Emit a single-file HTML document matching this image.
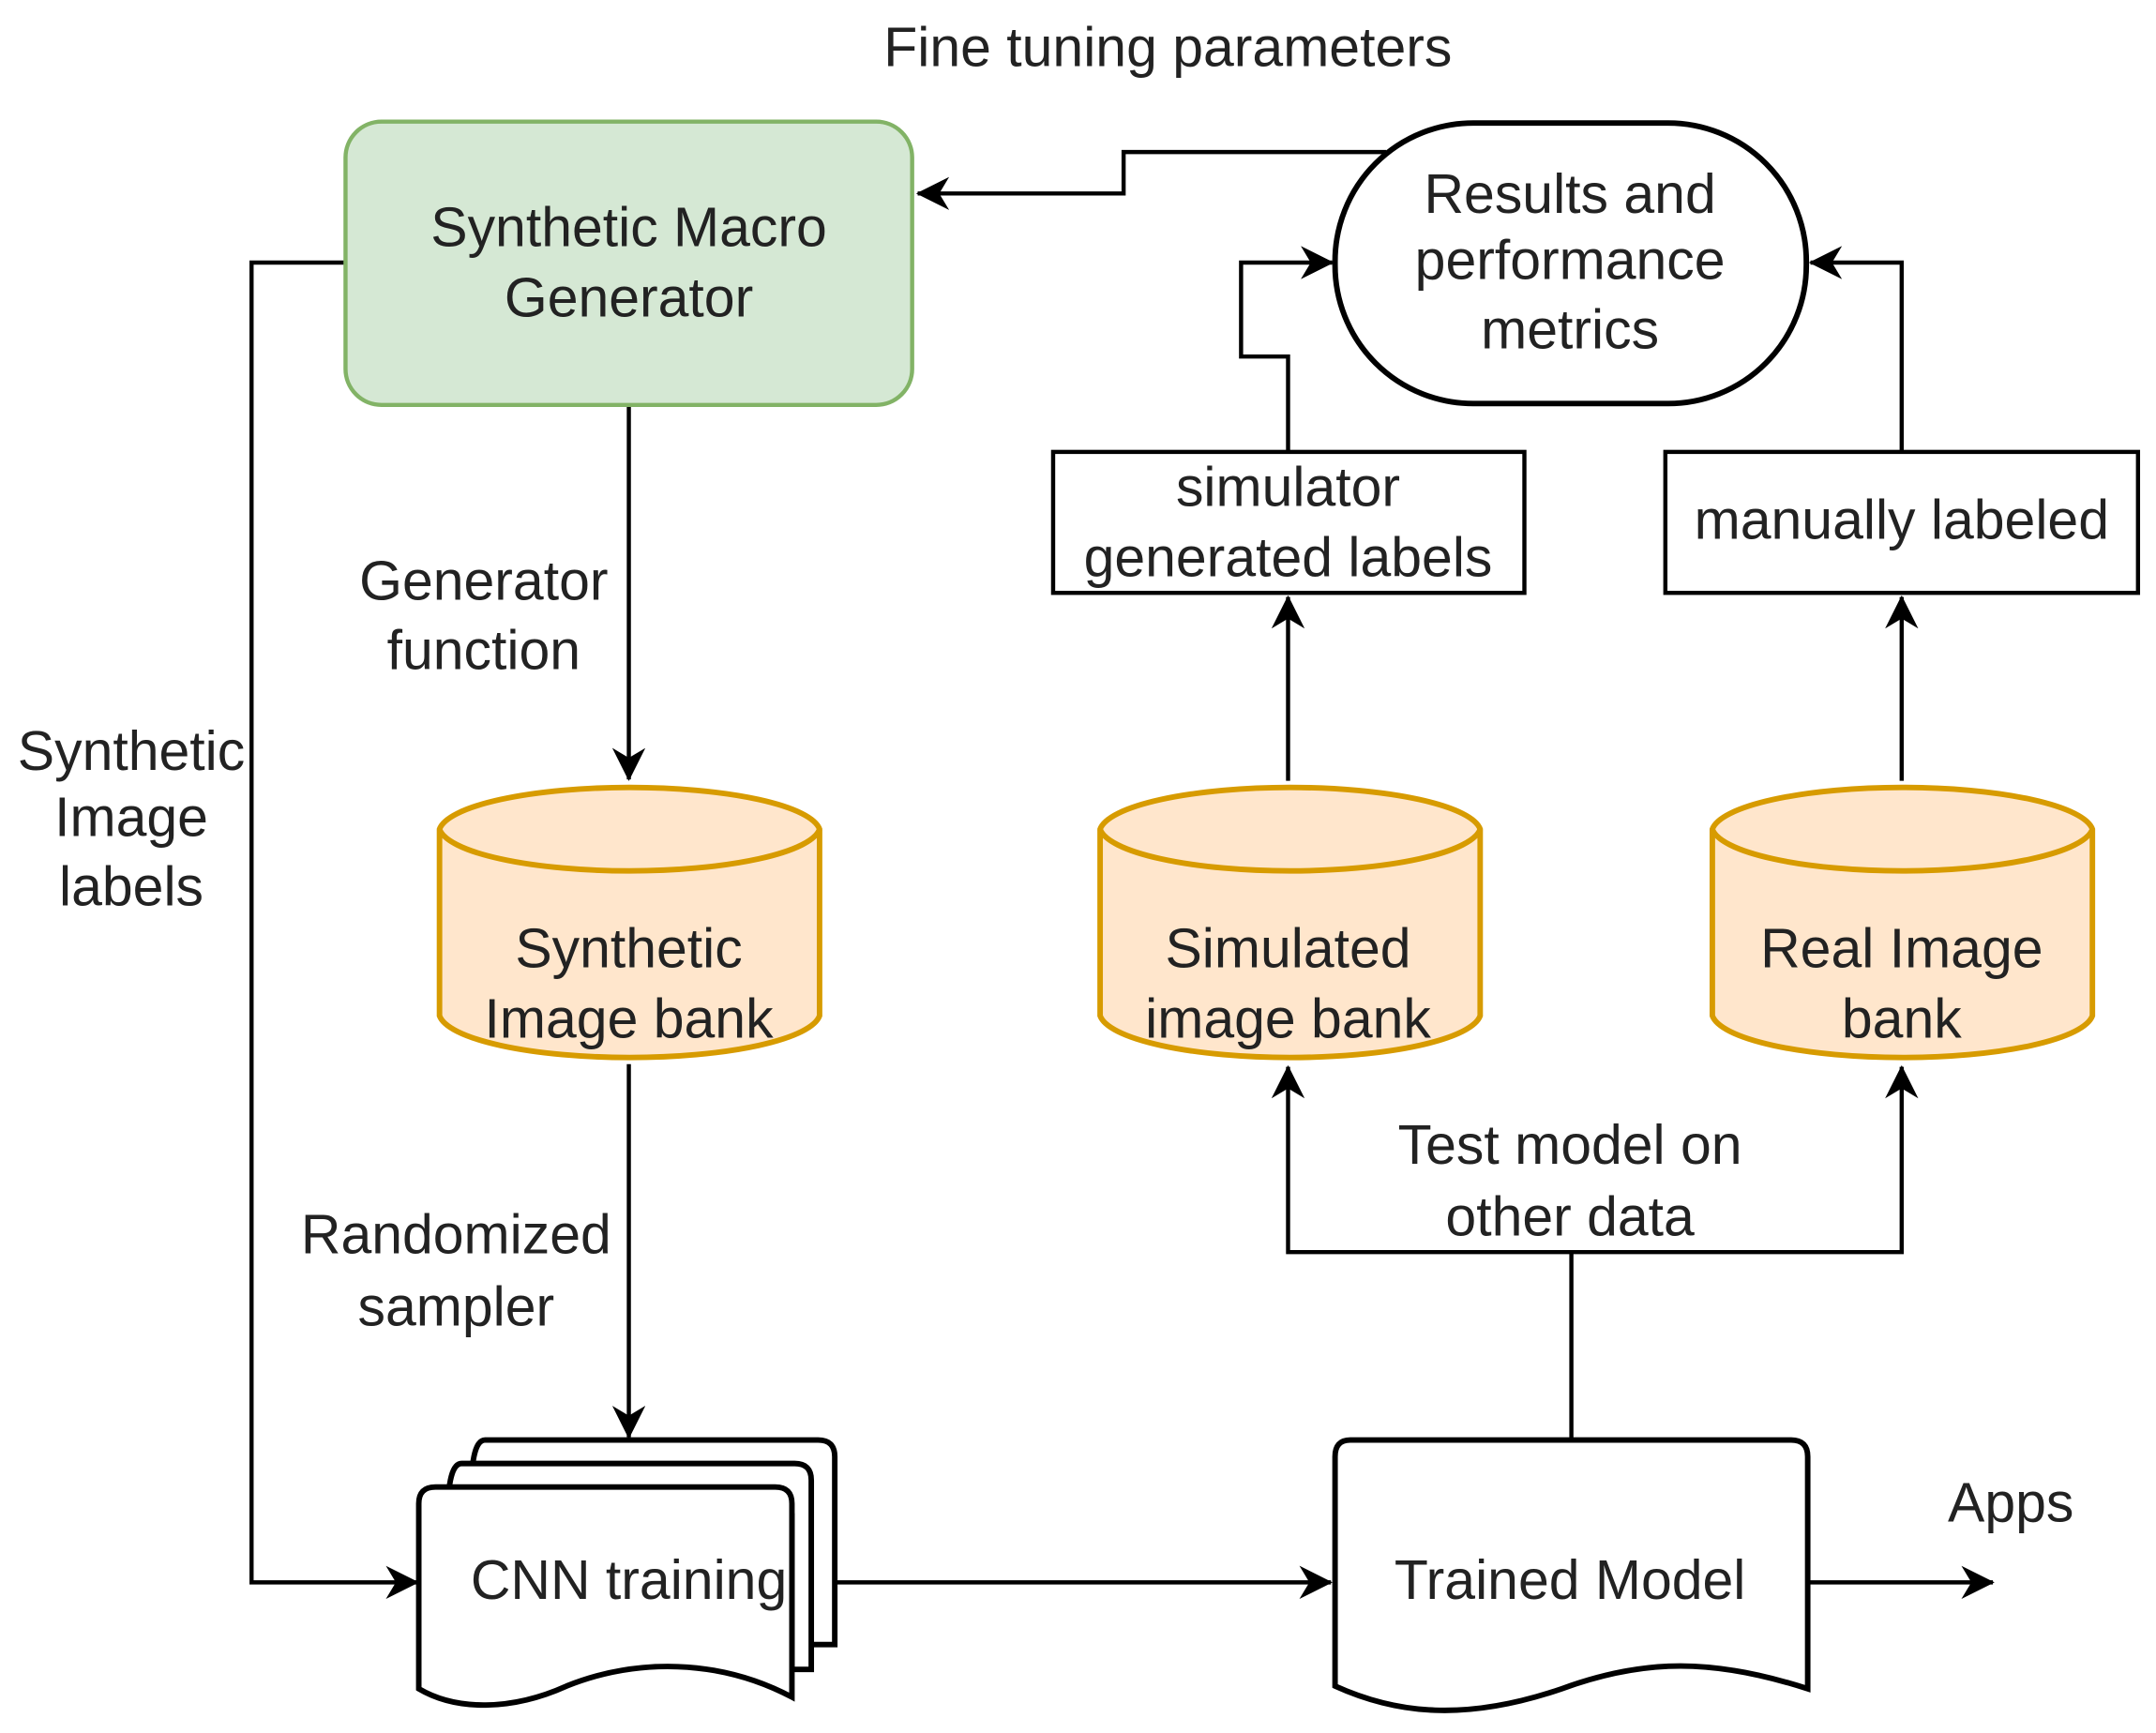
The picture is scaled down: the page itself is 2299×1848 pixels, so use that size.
<!DOCTYPE html>
<html><head><style>html,body{margin:0;padding:0;background:#fff}svg{display:block}</style></head>
<body>
<svg width="2299" height="1848" viewBox="0 0 1560 1254" xmlns="http://www.w3.org/2000/svg">
<defs>
<marker id="ar" viewBox="0 0 20 20" refX="19" refY="10" markerWidth="24" markerHeight="24" orient="auto" markerUnits="userSpaceOnUse">
<path d="M0,0 L20,10 L0,20 L6,10 Z" fill="#000"/>
</marker>
</defs>
<g font-family="Liberation Sans, sans-serif" font-size="40" fill="#222" text-anchor="middle">
<text x="845" y="48">Fine tuning parameters</text>
</g>
<g fill="none" stroke="#000" stroke-width="3">
<polyline points="1003,110 813,110 813,140 664,140" marker-end="url(#ar)"/>
<polyline points="932,327 932,258 898,258 898,190 964,190" marker-end="url(#ar)"/>
<polyline points="1376,327 1376,190 1310,190" marker-end="url(#ar)"/>
<line x1="455" y1="293" x2="455" y2="564" marker-end="url(#ar)"/>
<line x1="455" y1="770" x2="455" y2="1040" marker-end="url(#ar)"/>
<polyline points="250,190 182,190 182,1145 302,1145" marker-end="url(#ar)"/>
<line x1="605" y1="1145" x2="963" y2="1145" marker-end="url(#ar)"/>
<line x1="1308" y1="1145" x2="1442" y2="1145" marker-end="url(#ar)"/>
<polyline points="1137,1042 1137,906 932,906 932,772" marker-end="url(#ar)"/>
<polyline points="1137,906 1376,906 1376,772" marker-end="url(#ar)"/>
<line x1="932" y1="565" x2="932" y2="432" marker-end="url(#ar)"/>
<line x1="1376" y1="565" x2="1376" y2="432" marker-end="url(#ar)"/>
</g>
<rect x="250" y="88" width="410" height="205" rx="26" fill="#d5e8d4" stroke="#82b366" stroke-width="3"/>
<rect x="966" y="89" width="341" height="203" rx="100" fill="#fff" stroke="#000" stroke-width="4"/>
<rect x="762" y="327" width="341" height="102" fill="#fff" stroke="#000" stroke-width="3"/>
<rect x="1205" y="327" width="342" height="102" fill="#fff" stroke="#000" stroke-width="3"/>
<g fill="#ffe6cc" stroke="#d79b00" stroke-width="4">
<path d="M318,600 a138,33 0 0 1 275,0 v135 a138,33 0 0 1 -275,0 Z"/><path d="M318,600 a138,33 0 0 0 275,0" fill="none"/>
<path d="M796,600 a138,33 0 0 1 275,0 v135 a138,33 0 0 1 -275,0 Z"/><path d="M796,600 a138,33 0 0 0 275,0" fill="none"/>
<path d="M1239,600 a138,33 0 0 1 275,0 v135 a138,33 0 0 1 -275,0 Z"/><path d="M1239,600 a138,33 0 0 0 275,0" fill="none"/>
</g>
<g fill="#fff" stroke="#000" stroke-width="4">
<path d="M351,1042 H592 q12,0 12,12 V1190 H586 V1080 H341 Q341,1042 351,1042 Z"/>
<path d="M334,1059 H575 q12,0 12,12 V1208 H573 V1097 H324 Q324,1059 334,1059 Z"/>
<path d="M315,1076 H561 q12,0 12,12 V1228 C520,1200 460,1200 410,1220 C370,1238 330,1238 303,1222 V1088 q0,-12 12,-12 Z"/>
<path d="M977,1042 H1296 q12,0 12,12 V1222 C1240,1200 1190,1200 1130,1222 C1060,1246 1010,1240 966,1220 V1054 q0,-12 11,-12 Z"/>
</g>
<g font-family="Liberation Sans, sans-serif" font-size="40" fill="#222" text-anchor="middle">
<text x="455" y="178">Synthetic Macro</text><text x="455" y="229">Generator</text>
<text x="1136" y="154">Results and</text><text x="1136" y="202">performance</text><text x="1136" y="252">metrics</text>
<text x="932" y="366">simulator</text><text x="932" y="417">generated labels</text>
<text x="1376" y="390">manually labeled</text>
<text x="455" y="700">Synthetic</text><text x="455" y="751">Image bank</text>
<text x="932" y="700">Simulated</text><text x="932" y="751">image bank</text>
<text x="1376" y="700">Real Image</text><text x="1376" y="751">bank</text>
<text x="350" y="434">Generator</text><text x="350" y="484">function</text>
<text x="330" y="907">Randomized</text><text x="330" y="959">sampler</text>
<text x="95" y="557">Synthetic</text><text x="95" y="605">Image</text><text x="95" y="655">labels</text>
<text x="455" y="1157">CNN training</text>
<text x="1136" y="1157">Trained Model</text>
<text x="1455" y="1101">Apps</text>
<text x="1136" y="842">Test model on</text><text x="1136" y="894">other data</text>
</g>
</svg>
</body></html>
